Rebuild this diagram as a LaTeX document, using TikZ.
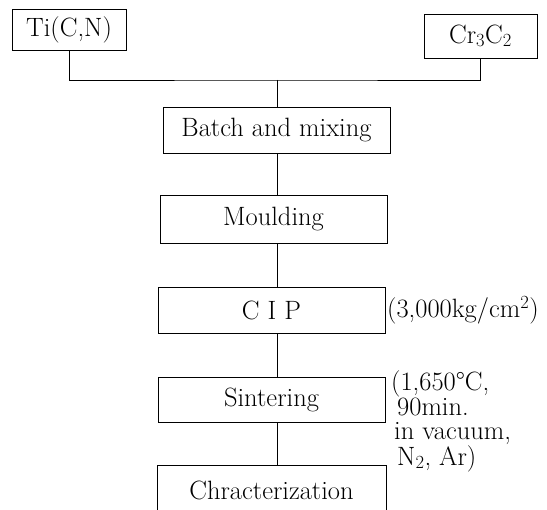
\documentclass[tikz,border=0pt]{standalone}
\begin{document}
\begin{tikzpicture}[x=1pt, y=-1pt,
    every node/.style={font=\fontsize{26.5}{24}\selectfont},
    stage/.style={draw, line width=0.8pt, inner sep=0pt, minimum width=227pt, minimum height=46pt},
    note/.style={inner sep=0pt, align=left}]
  \useasboundingbox (0,0) rectangle (547,510);
  \clip (0,0) rectangle (547,510);

  % raw materials
  \node[stage, minimum width=114pt, minimum height=41pt] (ticn) at (69,29.5) {Ti(C,N)};
  \node[stage, minimum width=113pt, minimum height=44pt] (crc) at (480.5,36) {Cr\textsubscript{3}C\textsubscript{2}};

  % process steps
  \node[stage] (batch) at (276.5,130) {Batch and mixing};
  \node[stage, minimum height=48pt] (moulding) at (273.5,219) {Moulding};
  \node[stage] (cip) at (271.5,310) {C I P};
  \node[stage, minimum height=45pt] (sintering) at (271.5,399.5) {Sintering};
  \node[stage, minimum width=229pt, minimum height=50pt] (charact) at (271.5,490) {Chracterization};

  % conditions
  \node[note, anchor=west] (cipnote) at (387,310) {(3,000kg/cm\textsuperscript{2})};
  \node[note, anchor=north west] (sintnote) at (391,370)
    {(1,650\textdegree C,\\\hspace*{6pt}90min.\\\hspace*{3pt}in vacuum,\\\hspace*{6pt}N\textsubscript{2}, Ar)};

  \coordinate (join) at (277,80);
  \coordinate (spine) at (277,0);
  \draw[line width=0.8pt] (ticn.south) |- (join) -| (crc.south);
  \draw[line width=0.8pt] (join) -- (batch.north -| join);
  \draw[line width=0.8pt] (batch.south -| spine) -- (moulding.north -| spine);
  \draw[line width=0.8pt] (moulding.south -| spine) -- (cip.north -| spine);
  \draw[line width=0.8pt] (cip.south -| spine) -- (sintering.north -| spine);
  \draw[line width=0.8pt] (sintering.south -| spine) -- (charact.north -| spine);
\end{tikzpicture}
\end{document}
